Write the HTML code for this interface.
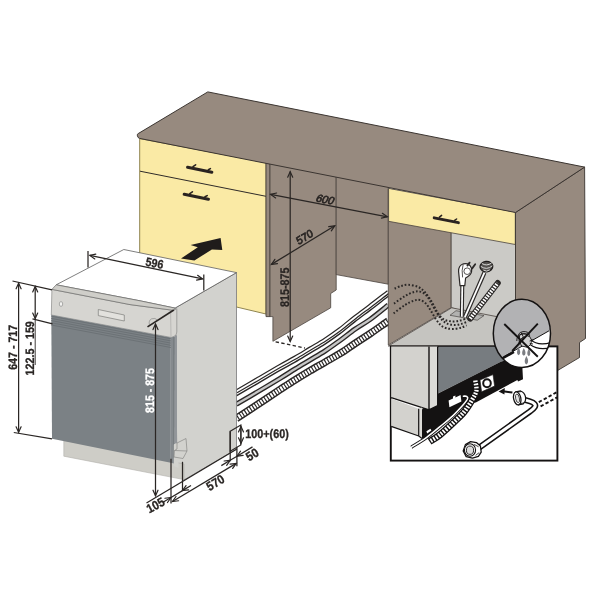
<!DOCTYPE html>
<html>
<head>
<meta charset="utf-8">
<title>Dishwasher installation dimensions</title>
<style>
html,body{margin:0;padding:0;background:#fff;}
body{width:600px;height:600px;overflow:hidden;font-family:"Liberation Sans",sans-serif;}
svg{display:block;will-change:transform;}
text{font-family:"Liberation Sans",sans-serif;font-weight:bold;fill:#2a2624;stroke:#2a2624;stroke-width:0.3;text-rendering:geometricPrecision;}
.lt{font-weight:normal;stroke-width:0.7px;}
.ln{stroke:#2e2a28;stroke-width:1;fill:none;}
.dim{stroke:#2a2624;stroke-width:1.25;fill:none;}
.ah{fill:none;stroke:#2a2624;stroke-width:1.1;stroke-linecap:round;stroke-linejoin:miter;}
</style>
</head>
<body>
<svg width="600" height="600" viewBox="0 0 600 600">
<rect width="600" height="600" fill="#ffffff"/>


<!-- ================= HOSES (floor) ================= -->
<g id="hoses" fill="none" stroke-linecap="butt">
  <path d="M236.3,391.5 C239.9,389.4 250.7,383.1 258.0,378.9 C265.3,374.6 273.8,369.5 280.0,366.0 C286.2,362.5 290.0,360.6 295.0,357.7 C300.0,354.8 305.0,351.7 310.0,348.7 C315.0,345.7 320.0,342.9 325.0,339.7 C330.0,336.4 335.0,332.9 340.0,329.2 C345.0,325.4 350.0,321.1 355.0,317.2 C360.0,313.3 364.4,310.2 370.0,306.0 C375.6,301.8 385.2,294.2 388.3,291.9" stroke="#2b2827" stroke-width="4.3"/>
  <path d="M236.3,391.5 C239.9,389.4 250.7,383.1 258.0,378.9 C265.3,374.6 273.8,369.5 280.0,366.0 C286.2,362.5 290.0,360.6 295.0,357.7 C300.0,354.8 305.0,351.7 310.0,348.7 C315.0,345.7 320.0,342.9 325.0,339.7 C330.0,336.4 335.0,332.9 340.0,329.2 C345.0,325.4 350.0,321.1 355.0,317.2 C360.0,313.3 364.4,310.2 370.0,306.0 C375.6,301.8 385.2,294.2 388.3,291.9" stroke="#ffffff" stroke-width="1.8"/>
  <path d="M236.3,395.9 C239.9,393.8 250.7,387.5 258.0,383.3 C265.3,379.0 273.8,373.9 280.0,370.4 C286.2,366.9 290.0,365.0 295.0,362.1 C300.0,359.2 305.0,356.1 310.0,353.1 C315.0,350.1 320.0,347.3 325.0,344.1 C330.0,340.8 335.0,337.3 340.0,333.6 C345.0,329.8 350.0,325.5 355.0,321.6 C360.0,317.7 364.4,314.6 370.0,310.4 C375.6,306.2 385.2,298.6 388.3,296.3" stroke="#2b2827" stroke-width="1.4"/>
  <path d="M236.3,404.2 C239.9,402.1 250.7,395.9 258.0,391.6 C265.3,387.3 273.8,382.2 280.0,378.4 C286.2,374.6 290.0,372.1 295.0,369.0 C300.0,365.9 305.0,363.0 310.0,360.0 C315.0,357.0 320.0,354.2 325.0,351.0 C330.0,347.8 335.0,344.1 340.0,340.5 C345.0,336.9 350.0,332.7 355.0,329.2 C360.0,325.7 364.4,323.5 370.0,319.5 C375.6,315.5 385.2,307.4 388.3,305.0" stroke="#2b2827" stroke-width="5.1"/>
  <path d="M236.3,404.2 C239.9,402.1 250.7,395.9 258.0,391.6 C265.3,387.3 273.8,382.2 280.0,378.4 C286.2,374.6 290.0,372.1 295.0,369.0 C300.0,365.9 305.0,363.0 310.0,360.0 C315.0,357.0 320.0,354.2 325.0,351.0 C330.0,347.8 335.0,344.1 340.0,340.5 C345.0,336.9 350.0,332.7 355.0,329.2 C360.0,325.7 364.4,323.5 370.0,319.5 C375.6,315.5 385.2,307.4 388.3,305.0" stroke="#c6c6c6" stroke-width="2.3"/>
  <path d="M236.3,418.5 C239.9,416.1 250.7,409.1 258.0,404.3 C265.3,399.5 273.8,393.7 280.0,389.6 C286.2,385.6 290.0,383.1 295.0,380.0 C300.0,376.9 305.0,373.8 310.0,370.8 C315.0,367.8 320.0,365.1 325.0,362.2 C330.0,359.3 335.0,356.7 340.0,353.6 C345.0,350.5 350.0,346.8 355.0,343.5 C360.0,340.2 364.4,337.4 370.0,333.7 C375.6,329.9 385.2,323.1 388.3,321.0" stroke="#2b2827" stroke-width="7.6"/>
  <path d="M236.3,418.5 C239.9,416.1 250.7,409.1 258.0,404.3 C265.3,399.5 273.8,393.7 280.0,389.6 C286.2,385.6 290.0,383.1 295.0,380.0 C300.0,376.9 305.0,373.8 310.0,370.8 C315.0,367.8 320.0,365.1 325.0,362.2 C330.0,359.3 335.0,356.7 340.0,353.6 C345.0,350.5 350.0,346.8 355.0,343.5 C360.0,340.2 364.4,337.4 370.0,333.7 C375.6,329.9 385.2,323.1 388.3,321.0" stroke="#ffffff" stroke-width="4.7" stroke-dasharray="1.8 1.15"/>
</g>

<!-- ================= KITCHEN UNIT ================= -->
<g id="kitchen" stroke-linejoin="round">
  <!-- left yellow cabinet front -->
  <polygon points="139.7,138.6 266,162.6 266,314 139.7,284" fill="#faeaa5" stroke="#8f8450" stroke-width="1"/>
  <line x1="140" y1="171.2" x2="266" y2="196.3" class="ln" stroke-width="0.9"/>

  <!-- niche: left wall (side of left cabinet) -->
  <polygon points="266,160 270,160 270,316.6 266,316.6" fill="#978a7f" stroke="#4a433e" stroke-width="0.9"/>
  <polygon points="270,160 336.2,173 336.2,290 330.7,293.5 330.7,307.8 272.9,341.3 272.9,316.6 270,316.6" fill="#978a7f" stroke="#4a433e" stroke-width="0.8"/>
  <!-- niche back wall -->
  <polygon points="336.2,173 388.3,184 388.3,284.2 336.2,274.6" fill="#978a7f" stroke="#4a433e" stroke-width="0.8"/>

  <!-- right cabinet: inner left wall -->
  <polygon points="388.3,188.8 451.2,202 451.2,307.5 388.3,345" fill="#978a7f" stroke="#4a433e" stroke-width="0.8"/>
  <!-- right cabinet back wall (light grey) -->
  <polygon points="451.2,230 515.5,242 515.5,330 451.2,307.5" fill="#cbcac6" stroke="#4a433e" stroke-width="0.8"/>
  <!-- right cabinet floor -->
  <polygon points="388.3,346 451.7,307.8 515.5,320.3 515.5,346" fill="#c5c4c0" stroke="#4a433e" stroke-width="0.8"/>
  <!-- right yellow drawer -->
  <polygon points="388.6,188.4 515.3,212 515.3,244.5 388.6,221.3" fill="#faeaa5" stroke="#4a433e" stroke-width="0.8"/>

  <!-- right side panel -->
  <polygon points="515.5,212.5 584.6,167.1 585.5,338.5 579.5,342.5 579.5,357.5 557.6,370.5 515.5,370.5" fill="#978a7f" stroke="#3b3531" stroke-width="0.9"/>

  <!-- countertop -->
  <path d="M137.3,135.2 Q137,134.3 138.2,133.6 L207.8,91.9 L584.6,167.1 L515.5,212.5 L139.5,138.4 Q137.6,138 137.3,135.2 Z" fill="#978a7f" stroke="#3b3531" stroke-width="1"/>
</g>



<!-- ================= HANDLES ================= -->
<g id="handles" stroke="#2a2320" stroke-linecap="round" fill="none">
  <line x1="187.6" y1="167.2" x2="211.8" y2="172.3" stroke-width="3.1"/>
  <path d="M193,166.6 L195.6,164.8 M208.4,169.8 L210.4,168.6" stroke-width="1.6"/>
  <line x1="184.2" y1="194.3" x2="208.4" y2="199.2" stroke-width="3.1"/>
  <path d="M189.8,193.6 L192.4,191.8 M205,196.8 L207.2,195.6" stroke-width="1.6"/>
  <line x1="434.2" y1="217.8" x2="458.4" y2="222.7" stroke-width="2.9"/>
  <path d="M439.4,217.2 L441.6,215.4 M454.6,220.4 L456.6,219" stroke-width="1.5"/>
</g>

<!-- ================= RIGHT CABINET INTERIOR ================= -->
<g id="interior" fill="none">
  <!-- hole in floor -->
  <polygon points="456,310.7 484,315.6 477.3,320.2 450,315.3" fill="#b2b2b0" stroke="#4a4643" stroke-width="0.7"/>
  <!-- dotted hidden hoses -->
  <g stroke="#2b2827" stroke-width="2" stroke-dasharray="1.7 1.9">
    <path d="M394.6,288.6 C395.7,288.2 398.7,286.6 401.0,286.0 C403.3,285.4 405.5,284.7 408.3,284.8 C411.1,284.9 415.2,285.6 418.0,286.8 C420.8,288.1 422.7,289.8 425.0,292.3 C427.3,294.8 429.6,298.3 431.7,301.7 C433.8,305.1 435.6,309.8 437.6,312.7 C439.6,315.6 441.4,317.9 443.7,319.3 C446.0,320.8 449.0,321.2 451.7,321.4 C454.4,321.6 457.6,321.1 460.0,320.6 C462.4,320.1 465.0,318.9 466.0,318.6"/>
    <path d="M394.0,303.6 C395.8,302.3 401.7,297.9 405.0,296.0 C408.3,294.1 411.5,292.7 414.0,292.0 C416.5,291.3 418.0,291.1 420.0,291.6 C422.0,292.1 424.2,293.2 426.0,295.0 C427.8,296.8 429.3,299.7 431.0,302.4 C432.7,305.1 434.3,308.7 436.0,311.4 C437.7,314.1 439.2,316.8 441.0,318.8 C442.8,320.8 444.7,322.6 447.0,323.6 C449.3,324.6 452.4,325.0 455.0,325.0 C457.6,325.0 460.1,324.2 462.3,323.6 C464.5,323.0 467.1,321.9 468.0,321.6"/>
    <path d="M393.6,313.4 C395.5,312.0 401.6,307.1 405.0,305.0 C408.4,302.9 411.5,301.4 414.0,300.6 C416.5,299.8 418.0,299.5 420.0,300.0 C422.0,300.5 424.2,301.8 426.0,303.6 C427.8,305.4 429.3,308.4 431.0,311.0 C432.7,313.6 434.3,317.0 436.0,319.4 C437.7,321.8 439.2,323.9 441.0,325.4 C442.8,326.9 444.7,327.8 447.0,328.4 C449.3,329.0 452.5,329.0 455.0,328.8 C457.5,328.6 460.1,328.0 462.0,327.4 C463.9,326.8 465.8,325.7 466.6,325.4"/>
  </g>
  <!-- corrugated drain hose -->
  <line x1="470.2" y1="318.6" x2="497.8" y2="283" stroke="#2b2827" stroke-width="6" stroke-linecap="round"/>
  <line x1="470.2" y1="318.6" x2="497.8" y2="283" stroke="#ffffff" stroke-width="3.8" stroke-dasharray="1.6 1.2"/>
  <!-- inlet hose with round head -->
  <line x1="464.9" y1="317.2" x2="484.4" y2="272.6" stroke="#2b2827" stroke-width="4.2"/>
  <line x1="464.9" y1="317.2" x2="484.4" y2="272.6" stroke="#ffffff" stroke-width="1.8"/>
  <ellipse cx="486.4" cy="266.6" rx="6.4" ry="5.2" fill="#55524f" stroke="#1f1c1b" stroke-width="1.3" transform="rotate(-6 486.4 266.6)"/>
  <path d="M480.8,266.4 Q486.6,270.6 492.4,265.8 M481.8,263.4 Q486.6,266.6 491.6,263 M483.4,270 Q486.6,272.4 489.8,269.8" stroke="#e8e8e6" stroke-width="0.9"/>
  <!-- power cable + plug -->
  <line x1="461.8" y1="316.8" x2="462.3" y2="284.5" stroke="#2b2827" stroke-width="4"/>
  <line x1="461.8" y1="316.8" x2="462.3" y2="284.5" stroke="#ffffff" stroke-width="1.7"/>
  <path d="M460,285.6 L458.6,271.6 Q458.4,265.4 463.4,263.8 Q469.4,262.6 471.4,268.2 Q472.6,273.8 468,276.6 L465.6,278 L464.8,285.6 Z" fill="#ffffff" stroke="#2b2827" stroke-width="1.2"/>
  <path d="M463.2,264.4 Q461.4,270 462.6,277.4" stroke="#2b2827" stroke-width="0.8"/>
  <circle cx="467.2" cy="271.2" r="3.3" fill="#ffffff" stroke="#2b2827" stroke-width="0.8"/>
  <path d="M467.4,265.6 L469.6,262.6 M472,268.6 L475.2,264.2" stroke="#2b2827" stroke-width="1.8" stroke-linecap="round"/>
</g>

<!-- ================= INSET ================= -->
<g id="inset" stroke-linejoin="miter">
  <rect x="390.8" y="346.4" width="166.6" height="114.2" fill="#ffffff" stroke="#141212" stroke-width="1.9"/>
  <!-- machine side (dark) -->
  <polygon points="438.3,346.8 530,346.8 530,352 500.8,361.7 438.3,393.3" fill="#777c80"/>
  <!-- black base -->
  <path d="M422,409.5 L438.5,393.3 L500.8,361.7 L521.7,355 L523,379.2 L518,381.6 L517.4,380 L475.8,402.5 L466,404 L453.3,415.3 L440,426.7 L426.7,437.3 L422,438.7 Z" fill="#141212"/>
  <!-- door face -->
  <polygon points="391.2,346.6 429,346.6 429,409.8 391.2,397.6" fill="#d3d2ce"/>
  <polygon points="429,346.6 437.7,346.6 437.7,405.6 429,409.8" fill="#dcdbd7"/>
  <path d="M391.2,397.6 L429,409.8 L429,346.6 M429,409.8 L437.7,405.6 L437.7,346.6" fill="none" stroke="#141212" stroke-width="1.4"/>
  <!-- plinth -->
  <polygon points="391.2,398.6 418.7,408.7 418.7,436 391.2,426.4" fill="#d3d2ce"/>
  <polygon points="418.7,408.7 422,407.6 422,438.4 418.7,436" fill="#dcdbd7"/>
  <path d="M391.2,426.4 L418.7,436 L418.7,408.7 M418.7,436 L422,438.4" fill="none" stroke="#141212" stroke-width="1.2"/>
  <!-- white details on base -->
  <path d="M448.6,400.6 L453,398.6 L453,396.4 L455.4,395.4 L455.4,397.4 L460.6,395 L461.4,401.6 L449.4,407.2 Z" fill="#ffffff"/>
  <path d="M426.4,431.2 L430.4,428.8 L431.4,430.6 L427.2,433.4 Z" fill="#ffffff"/>
  <!-- inlet valve -->
  <polygon points="480,380 493,374.6 494.6,386 481.6,391.8" fill="#ffffff" stroke="#141212" stroke-width="0.6"/>
  <ellipse cx="487" cy="383.2" rx="3.8" ry="4" fill="#ffffff" stroke="#141212" stroke-width="2"/>
  <!-- thin drain tube -->
  <path d="M463.6,396.2 C464.1,396.2 465.9,395.9 466.6,396.4 C467.3,396.9 468.2,397.5 467.6,399.0 C467.0,400.5 465.1,402.6 462.7,405.3 C460.3,408.0 457.1,411.7 453.3,415.3 C449.5,418.9 444.4,423.0 440.0,426.7 C435.6,430.4 431.5,433.9 426.7,437.3 C421.9,440.7 413.9,445.6 411.3,447.3" fill="none" stroke="#141212" stroke-width="3.4"/>
  <path d="M463.6,396.2 C464.1,396.2 465.9,395.9 466.6,396.4 C467.3,396.9 468.2,397.5 467.6,399.0 C467.0,400.5 465.1,402.6 462.7,405.3 C460.3,408.0 457.1,411.7 453.3,415.3 C449.5,418.9 444.4,423.0 440.0,426.7 C435.6,430.4 431.5,433.9 426.7,437.3 C421.9,440.7 413.9,445.6 411.3,447.3" fill="none" stroke="#ffffff" stroke-width="1.6" stroke-linecap="square"/>
  <!-- corrugated hose -->
  <path d="M475.3,380.5 C475.5,382.2 476.9,387.4 476.4,390.7 C475.8,393.9 474.1,396.4 472.0,400.0 C469.9,403.6 467.1,408.2 464.0,412.0 C460.9,415.8 457.3,418.9 453.3,422.7 C449.3,426.5 443.9,431.5 440.0,434.7 C436.1,437.9 431.3,440.5 429.6,441.6" fill="none" stroke="#141212" stroke-width="7"/>
  <path d="M475.3,380.5 C475.5,382.2 476.9,387.4 476.4,390.7 C475.8,393.9 474.1,396.4 472.0,400.0 C469.9,403.6 467.1,408.2 464.0,412.0 C460.9,415.8 457.3,418.9 453.3,422.7 C449.3,426.5 443.9,431.5 440.0,434.7 C436.1,437.9 431.3,440.5 429.6,441.6" fill="none" stroke="#ffffff" stroke-width="4.4" stroke-dasharray="1.7 1.4"/>
  <!-- small arrow -->
  <line x1="512.4" y1="392.6" x2="503" y2="391.2" stroke="#141212" stroke-width="2"/>
  <polygon points="498.6,391.4 504.8,388 504.4,394.6" fill="#141212"/>
  <!-- dashed pipe -->
  <g stroke="#141212" stroke-width="1.9" stroke-dasharray="3.4 2.2" fill="none">
    <line x1="538.8" y1="402.2" x2="557" y2="392"/>
    <line x1="540.6" y1="406.4" x2="557" y2="397.4"/>
  </g>
  <!-- inlet hose with elbow -->
  <path d="M518,397.8 L530,401.4 Q536.8,403.6 534.8,407 Q533.6,409 530,411.4 L479,447.8" fill="none" stroke="#141212" stroke-width="6.1" stroke-linejoin="round"/>
  <path d="M518,397.8 L530,401.4 Q536.8,403.6 534.8,407 Q533.6,409 530,411.4 L479,447.8" fill="none" stroke="#ffffff" stroke-width="3" stroke-linejoin="round"/>
  <!-- nut on elbow -->
  <g transform="translate(0.6,-1.2) rotate(-12 517.6 399.4)">
    <path d="M516.6,392.8 L521.4,392.8 Q525,395 525,399.4 Q525,403.8 521.4,406 L516.6,406 Z" fill="#ffffff" stroke="#141212" stroke-width="1.2"/>
    <ellipse cx="516.6" cy="399.4" rx="3.6" ry="6.6" fill="#ffffff" stroke="#141212" stroke-width="1.3"/>
    <ellipse cx="516.9" cy="399.4" rx="1.9" ry="4.4" fill="#e2e2e2" stroke="#141212" stroke-width="0.7"/>
    <path d="M519,393.4 L522.6,393.6 M519,405.4 L522.6,405" fill="none" stroke="#141212" stroke-width="0.7"/>
  </g>
  <!-- hex nut bottom -->
  <path d="M465.4,444.6 L470.6,441.6 L476.4,442.6 L480.4,446 L481.2,452.2 L478.4,456.4 L472.4,458.2 L466.2,456.6 L463.2,451 Z" fill="#ffffff" stroke="#141212" stroke-width="1.3" stroke-linejoin="round"/>
  <ellipse cx="470" cy="450" rx="5.6" ry="6.2" fill="#ffffff" stroke="#141212" stroke-width="1.1"/>
  <ellipse cx="470" cy="450.2" rx="3.6" ry="4.2" fill="#dcdcdc" stroke="#141212" stroke-width="0.9"/>
  <path d="M474.2,444.4 L478.6,446.8 M475.6,455.4 L479.2,452.6" fill="none" stroke="#141212" stroke-width="0.8"/>
</g>

<!-- ================= WARNING CIRCLE ================= -->
<g id="warn">
  <clipPath id="cc"><ellipse cx="521.9" cy="333.4" rx="28.6" ry="34.1"/></clipPath>
  <ellipse cx="521.9" cy="333.4" rx="28.6" ry="34.1" fill="#ffffff"/>
  <g clip-path="url(#cc)">
    <polygon points="480,280 560,280 560,324 549,330.8 503.2,357 480,372" fill="#b2b2b4"/>
    <line x1="503.2" y1="357" x2="549" y2="330.8" stroke="#141212" stroke-width="1"/>
    <line x1="480" y1="371" x2="514" y2="352" stroke="#141212" stroke-width="2.4"/>
    <!-- pipe stub -->
    <path d="M530.6,339.6 Q538,346.6 551,342.4 L553,347 Q540,352 529.6,344 Z" fill="#ffffff"/>
    <path d="M530.6,339.6 Q538,346.6 552,342.2 M529.6,344.2 Q540,351.6 553,346.6" fill="none" stroke="#141212" stroke-width="1.2"/>
    <path d="M519.6,335.4 Q522.6,332.6 528.4,334.4 L531.6,340 Q531.4,345.6 527,347.2 L521.6,346 Q517.6,341 519.6,335.4 Z" fill="#cfcfcf" stroke="#141212" stroke-width="0.9"/>
    <path d="M518.2,337.6 Q517.6,332.6 523,331.6 Q528.6,331 529.6,335.6 M516.8,341 Q516.6,335.4 521.6,334 Q526.6,333 528.6,337 M518.6,343.6 Q520,337.6 525.6,336.6 M521,332.4 Q524.6,336 522.4,341.6 M529.6,341 L533.6,339.6 M529.8,343.4 L533,344" fill="none" stroke="#141212" stroke-width="0.9"/>
    <!-- drops -->
    <g fill="#7b7d82">
      <path d="M518.6,347.6 Q522,353.4 518.6,355.2 Q515.2,353.6 518.6,347.6 Z"/>
      <path d="M523.8,348 Q527.2,354 523.8,355.8 Q520.4,354.2 523.8,348 Z"/>
      <path d="M528.8,348.6 Q532,354.4 528.8,356.2 Q525.6,354.6 528.8,348.6 Z"/>
      <path d="M526.4,356 Q530,362.4 526.4,364.4 Q522.8,362.6 526.4,356 Z"/>
    </g>
    <!-- cross -->
    <line x1="504.3" y1="324" x2="537.8" y2="356.7" stroke="#141212" stroke-width="1.9"/>
    <line x1="537.8" y1="323.7" x2="512.2" y2="351" stroke="#141212" stroke-width="1.9"/>
  </g>
  <ellipse cx="521.9" cy="333.4" rx="28.6" ry="34.1" fill="none" stroke="#141212" stroke-width="1.5"/>
</g>

<!-- ================= DISHWASHER ================= -->
<g id="dishwasher" stroke-linejoin="round">
  <!-- body side -->
  <polygon points="175,308.1 236.5,272.6 236.5,449.2 184,480 177,470" fill="#d2d2ce" stroke="#77777a" stroke-width="0.8"/>
  <!-- top -->
  <polygon points="56.2,284.8 123.8,249.5 236.5,272.6 175,308.1 140,300.8" fill="#ffffff" stroke="#5e5e5e" stroke-width="0.8"/>
  <!-- plinth -->
  <polygon points="63.8,440 184,464 184,479.6 63.8,456.2" fill="#cecdc7" stroke="#b0afaa" stroke-width="0.6"/>
  <!-- control panel front -->
  <path d="M51.9,289.4 L130,304.6 L173.8,310.4 L176.8,308.6 L176.8,332 Q176.8,335.4 174,336.4 L171.3,337.5 L51.3,315 Z" fill="#d6d5d1" stroke="#8a8a88" stroke-width="0.7"/>
  <path d="M170.6,311 L171,337" stroke="#a4a4a2" stroke-width="0.6" fill="none"/>
  <!-- panel top band -->
  <polygon points="51.9,289.4 56.2,284.8 140,300.8 175,308.1 173.8,310.4 130,304.6" fill="#cfcec9" stroke="#6a6a68" stroke-width="0.7"/>
  <!-- button + display -->
  <ellipse cx="61" cy="304" rx="1.7" ry="2.4" fill="#f2f2f0" stroke="#8e8e8c" stroke-width="0.7"/>
  <polygon points="98.3,309.5 124.3,315 124.3,321 98.3,315.6" fill="#e2e1dd" stroke="#7c7c7a" stroke-width="0.7"/>
  <path d="M149.4,324.8 Q148.4,320.4 151.6,318.8 Q155.2,317.4 157.6,320.2" fill="none" stroke="#8a8a88" stroke-width="0.7"/>
  <!-- door -->
  <polygon points="51.3,315 170.8,337.5 170.8,462.8 52,438.8" fill="#7b8185"/>
  <polygon points="170.8,337.5 174,336.4 174,463.4 170.8,462.8" fill="#858a8e"/>
  <polygon points="174,336.4 177,335 177,443 174.2,444.5" fill="#92969a"/>
  <line x1="174" y1="337" x2="174" y2="458" stroke="#5d6266" stroke-width="0.6"/>
  <!-- ridges -->
  <g stroke="#6c7276" stroke-width="1" fill="none">
    <line x1="51.3" y1="316.2" x2="170.8" y2="338.7"/>
    <line x1="51.3" y1="318.4" x2="170.8" y2="340.9"/>
    <line x1="51.3" y1="320.6" x2="170.8" y2="343.1"/>
    <line x1="51.3" y1="322.8" x2="170.8" y2="345.3"/>
    <line x1="51.3" y1="325" x2="170.8" y2="347.5"/>
  </g>
  <polygon points="173.8,444.4 177,443 178.5,443 178.5,468 173.8,466" fill="#d2d2ce"/>
  <!-- foot bracket -->
  <path d="M177,443 L186,438.5 L187,451 L183,458.5 L174,457 L174.5,450.5 L177,449 Z" fill="#d2d2ce" stroke="#7c7c7a" stroke-width="0.6"/>
  <path d="M174.5,450.5 L187,451" fill="none" stroke="#7c7c7a" stroke-width="0.6"/>
</g>

<defs>
  <marker id="ar" viewBox="-8 -4 9 8" markerWidth="9" markerHeight="8" refX="0" refY="0" orient="auto-start-reverse" markerUnits="userSpaceOnUse" overflow="visible">
    <path d="M-5.6,-2.5 L0,0 L-5.6,2.5" fill="none" stroke="#2a2624" stroke-width="1.2" stroke-linecap="round"/>
  </marker>
</defs>

<!-- ================= DIMENSIONS ================= -->
<g id="dims" class="dim">
  <!-- 600 -->
  <line x1="270.6" y1="194.4" x2="387.4" y2="216.8" marker-start="url(#ar)" marker-end="url(#ar)"/>
  <!-- 570 niche -->
  <line x1="271.4" y1="264.4" x2="334.8" y2="225.8" marker-start="url(#ar)" marker-end="url(#ar)"/>
  <!-- 815-875 niche -->
  <line x1="290.2" y1="171.6" x2="290.2" y2="341.6" marker-start="url(#ar)" marker-end="url(#ar)"/>
  <line x1="275.6" y1="341.8" x2="305" y2="348" stroke-dasharray="3.4 2.4" stroke-width="1.3"/>
  <!-- 596 -->
  <line x1="88" y1="251" x2="88" y2="267.5"/>
  <line x1="203.8" y1="274.4" x2="203.8" y2="290.6"/>
  <line x1="89.8" y1="255.4" x2="202.6" y2="278.9" marker-start="url(#ar)" marker-end="url(#ar)"/>
  <!-- 647-717 -->
  <line x1="12.5" y1="281" x2="52" y2="289.8"/>
  <line x1="13.8" y1="432.5" x2="52" y2="438.8"/>
  <line x1="18.6" y1="283.2" x2="18.6" y2="432.4" marker-start="url(#ar)" marker-end="url(#ar)"/>
  <!-- 122.5-159 -->
  <line x1="32.5" y1="318.8" x2="52.5" y2="323.8"/>
  <line x1="35.2" y1="286.4" x2="35.2" y2="318.6" marker-start="url(#ar)" marker-end="url(#ar)"/>
  <line x1="35.2" y1="318.6" x2="35.2" y2="365" stroke-width="0.9"/>
  <!-- 815-875 dishwasher -->
  <line x1="147.5" y1="326.9" x2="173.8" y2="310" stroke-width="1.7"/>
  <line x1="155.5" y1="324" x2="155.5" y2="495.8" marker-start="url(#ar)" marker-end="url(#ar)"/>
  <!-- floor baseline -->
  <line x1="146.5" y1="503" x2="236.9" y2="449"/>
  <!-- ext lines -->
  <line x1="171" y1="458.8" x2="171" y2="503.5"/>
  <line x1="182.5" y1="461.8" x2="182.5" y2="490.5"/>
  <!-- 105 -->
  <line x1="163" y1="502.3" x2="171" y2="497.5" marker-end="url(#ar)"/>
  <line x1="171" y1="497.5" x2="182.5" y2="490.6"/>
  <line x1="191" y1="485.5" x2="182.5" y2="490.6" marker-end="url(#ar)"/>
  <!-- 570 bottom -->
  <line x1="172.5" y1="501.5" x2="236.2" y2="463.4" marker-start="url(#ar)" marker-end="url(#ar)"/>
  <!-- 50 -->
  <line x1="221.3" y1="465.6" x2="230.2" y2="460.3" marker-end="url(#ar)"/>
  <line x1="230.2" y1="460.3" x2="237" y2="456.2"/>
  <line x1="252.5" y1="446.9" x2="237" y2="456.2" marker-end="url(#ar)"/>
  <line x1="230.2" y1="431.2" x2="230.2" y2="461.3"/>
  <line x1="236.9" y1="447" x2="236.9" y2="466.3"/>
  <!-- recess box -->
  <polygon points="230.2,431.2 240.8,425 240.8,445 230.2,451.2" fill="none"/>
  <line x1="241" y1="426.4" x2="241" y2="443.4" marker-start="url(#ar)" marker-end="url(#ar)" stroke-width="1"/>
</g>

<!-- ================= LABELS ================= -->
<g id="labels" font-size="12.2">
  <text transform="translate(323.8,203) rotate(10.5) skewX(-14)" text-anchor="middle" class="lt" font-size="10.8">600</text>
  <text transform="translate(306.2,240.4) rotate(-31.3) skewX(-6)" text-anchor="middle" class="lt" font-size="10.8">570</text>
  <text transform="translate(289,287.3) rotate(-90) scale(0.86,1)" text-anchor="middle" font-size="12.5">815-875</text>
  <text transform="translate(153.8,267.2) rotate(11) scale(0.88,1)" text-anchor="middle">596</text>
  <text transform="translate(17,347.3) rotate(-90) scale(0.875,1)" text-anchor="middle">647 - 717</text>
  <text transform="translate(34.3,348.3) rotate(-90) scale(0.88,1)" text-anchor="middle">122.5 - 159</text>
  <text transform="translate(154,390.5) rotate(-90) scale(0.87,1)" text-anchor="middle" style="fill:#ffffff;stroke:#ffffff">815 - 875</text>
  <text transform="translate(157.5,509) rotate(-28) scale(0.9,1)" text-anchor="middle" font-size="12.5">105</text>
  <text transform="translate(217.6,486.4) rotate(-31) scale(0.9,1)" text-anchor="middle" font-size="12.5">570</text>
  <text transform="translate(254.4,458.2) rotate(-31) scale(0.9,1)" text-anchor="middle" font-size="12.5">50</text>
  <text transform="translate(245.2,438.2) scale(0.865,1)" font-size="12.5">100+(60)</text>
</g>

<!-- big arrow -->
<polygon points="181,258.5 194.4,260.6 211.9,249.4 222.3,250 220.6,238.1 190.6,245 197.8,247.3" fill="#1f1c1b"/>

</svg>
</body>
</html>
